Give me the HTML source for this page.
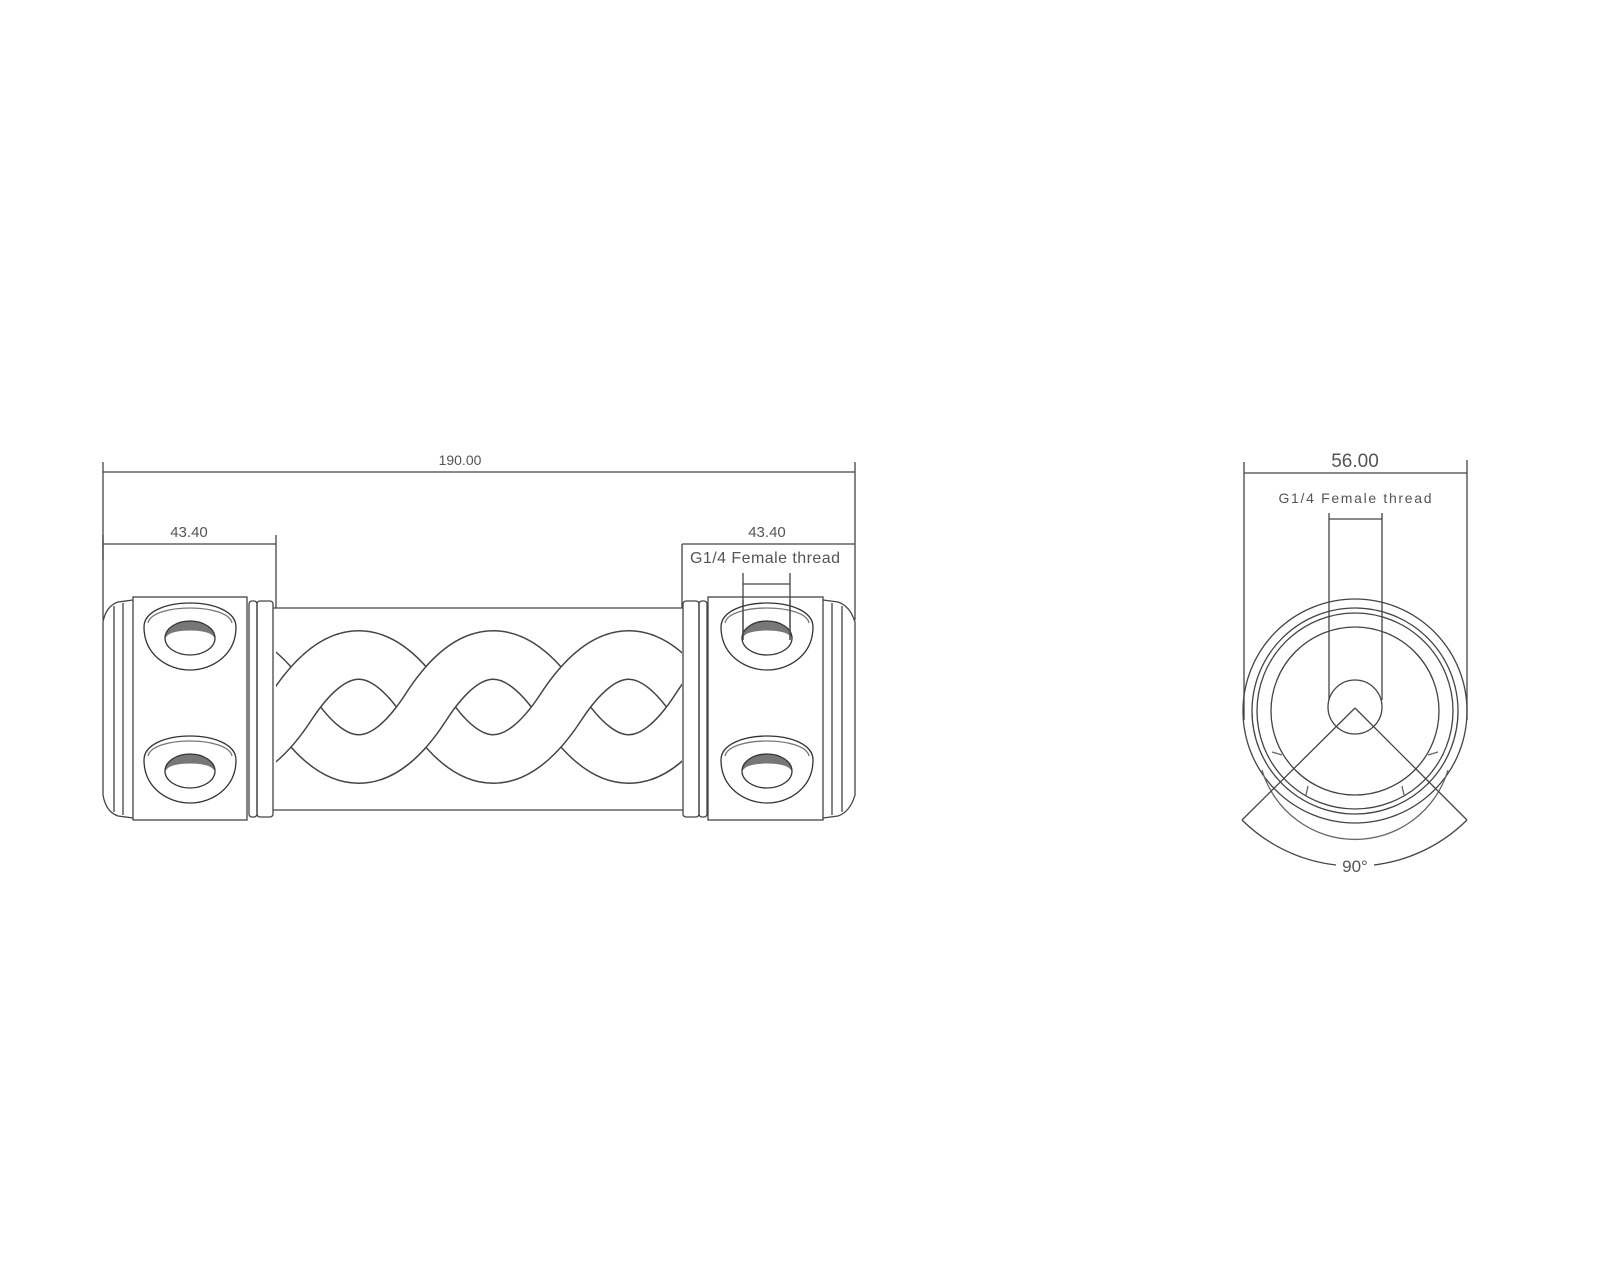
<!DOCTYPE html>
<html><head><meta charset="utf-8"><style>
html,body{margin:0;padding:0;background:#fff;}
svg{display:block;}
text{font-family:"Liberation Sans",sans-serif;fill:#555;}
</style></head><body>
<svg width="1600" height="1280" viewBox="0 0 1600 1280" xmlns="http://www.w3.org/2000/svg">
<defs>
<clipPath id="tube"><rect x="276" y="609" width="406" height="200"/></clipPath>
<clipPath id="c1"><rect x="380" y="600" width="90" height="220"/></clipPath>
<clipPath id="c2"><rect x="650" y="600" width="40" height="220"/></clipPath>
<clipPath id="c0"><rect x="250" y="600" width="80" height="220"/></clipPath>
</defs>
<g fill="none" stroke="#444" stroke-width="1.3">
<!-- overall dims -->
<line x1="103" y1="462" x2="103" y2="620"/>
<line x1="855" y1="462" x2="855" y2="620"/>
<line x1="103" y1="472" x2="855" y2="472"/>
<line x1="103" y1="535" x2="103" y2="560"/>
<line x1="103" y1="544" x2="276" y2="544"/>
<line x1="276" y1="535" x2="276" y2="608"/>
<line x1="682" y1="544" x2="855" y2="544"/>
<line x1="682" y1="544" x2="682" y2="608"/>
<line x1="743" y1="573" x2="743" y2="640"/>
<line x1="790" y1="573" x2="790" y2="640"/>
<line x1="743" y1="584" x2="790" y2="584"/>
<!-- left cap -->
<path d="M133,600 L118,602 Q106,606 103,622 L103,795 Q106,812 118,816 L133,818"/>
<line x1="114" y1="606" x2="114" y2="812"/>
<line x1="123" y1="603" x2="123" y2="815"/>
<rect x="133" y="597" width="114" height="223"/>
<rect x="249" y="601" width="8" height="216" rx="3"/>
<rect x="257" y="601" width="16" height="216" rx="3"/>
<!-- right cap -->
<rect x="683" y="601" width="16" height="216" rx="3"/>
<rect x="699" y="601" width="8" height="216" rx="3"/>
<rect x="708" y="597" width="115" height="223"/>
<path d="M823,600 L838,602 Q850,606 855,622 L855,795 Q850,812 838,816 L823,818"/>
<line x1="842" y1="606" x2="842" y2="812"/>
<line x1="832" y1="603" x2="832" y2="815"/>
<!-- tube -->
<line x1="273" y1="608" x2="683" y2="608"/>
<line x1="273" y1="810" x2="683" y2="810"/>
</g>
<!-- braid -->
<g clip-path="url(#tube)" fill="none">
<path id="sa" d="M156,707 Q223,603 291,707 T426,707 T561,707 T696,707 T831,707" stroke="#444" stroke-width="50"/>
<path d="M156,707 Q223,603 291,707 T426,707 T561,707 T696,707 T831,707" stroke="#fff" stroke-width="47"/>
<path d="M156,707 Q223,811 291,707 T426,707 T561,707 T696,707 T831,707" stroke="#444" stroke-width="50"/>
<path d="M156,707 Q223,811 291,707 T426,707 T561,707 T696,707 T831,707" stroke="#fff" stroke-width="47"/>
<g clip-path="url(#c1)">
<path d="M156,707 Q223,603 291,707 T426,707 T561,707 T696,707 T831,707" stroke="#444" stroke-width="50"/>
<path d="M156,707 Q223,603 291,707 T426,707 T561,707 T696,707 T831,707" stroke="#fff" stroke-width="47"/>
</g>
<g clip-path="url(#c2)">
<path d="M156,707 Q223,603 291,707 T426,707 T561,707 T696,707 T831,707" stroke="#444" stroke-width="50"/>
<path d="M156,707 Q223,603 291,707 T426,707 T561,707 T696,707 T831,707" stroke="#fff" stroke-width="47"/>
</g>
</g>
<!-- holes -->
<g id="holes" fill="none" stroke="#333" stroke-width="1.3">
<g transform="translate(190,637)">
<path d="M-46,-10 C-46,-42 46,-42 46,-10 C46,18 22,33 0,33 C-22,33 -46,18 -46,-10Z"/>
<path d="M-42,-14 C-38,-34 38,-34 42,-14" stroke="#777"/>
<path d="M-25,1 A25,17 0 0 1 25,1 L22,-2 C15,-8 -15,-8 -22,-2Z" fill="#777" stroke="none"/>
<ellipse cx="0" cy="1" rx="25" ry="17"/>
</g>
<g transform="translate(190,770)">
<path d="M-46,-10 C-46,-42 46,-42 46,-10 C46,18 22,33 0,33 C-22,33 -46,18 -46,-10Z"/>
<path d="M-42,-14 C-38,-34 38,-34 42,-14" stroke="#777"/>
<path d="M-25,1 A25,17 0 0 1 25,1 L22,-2 C15,-8 -15,-8 -22,-2Z" fill="#777" stroke="none"/>
<ellipse cx="0" cy="1" rx="25" ry="17"/>
</g>
<g transform="translate(767,637)">
<path d="M-46,-10 C-46,-42 46,-42 46,-10 C46,18 22,33 0,33 C-22,33 -46,18 -46,-10Z"/>
<path d="M-42,-14 C-38,-34 38,-34 42,-14" stroke="#777"/>
<path d="M-25,1 A25,17 0 0 1 25,1 L22,-2 C15,-8 -15,-8 -22,-2Z" fill="#777" stroke="none"/>
<ellipse cx="0" cy="1" rx="25" ry="17"/>
</g>
<g transform="translate(767,770)">
<path d="M-46,-10 C-46,-42 46,-42 46,-10 C46,18 22,33 0,33 C-22,33 -46,18 -46,-10Z"/>
<path d="M-42,-14 C-38,-34 38,-34 42,-14" stroke="#777"/>
<path d="M-25,1 A25,17 0 0 1 25,1 L22,-2 C15,-8 -15,-8 -22,-2Z" fill="#777" stroke="none"/>
<ellipse cx="0" cy="1" rx="25" ry="17"/>
</g>
</g>
<line x1="743" y1="600" x2="743" y2="640" stroke="#444" stroke-width="1.3"/>
<line x1="790" y1="600" x2="790" y2="640" stroke="#444" stroke-width="1.3"/>
<!-- texts left -->
<text x="460" y="465" font-size="14" text-anchor="middle">190.00</text>
<text x="189" y="537" font-size="15" text-anchor="middle">43.40</text>
<text x="767" y="537" font-size="15" text-anchor="middle">43.40</text>
<text x="765" y="563" font-size="16" text-anchor="middle" textLength="150">G1/4 Female thread</text>

<!-- end view -->
<g fill="none" stroke="#444" stroke-width="1.3">
<line x1="1244" y1="462" x2="1244" y2="720"/>
<line x1="1467" y1="460" x2="1467" y2="720"/>
<line x1="1244" y1="473" x2="1467" y2="473"/>
<line x1="1329" y1="513" x2="1329" y2="700"/>
<line x1="1382" y1="513" x2="1382" y2="700"/>
<line x1="1329" y1="519" x2="1382" y2="519"/>
<circle cx="1355" cy="711" r="112"/>
<circle cx="1355" cy="711" r="103"/>
<circle cx="1355" cy="711" r="98"/>
<circle cx="1355" cy="711" r="84"/>
<circle cx="1355" cy="707" r="27"/>
<path d="M1262,770 A97,97 0 0 0 1448,770" stroke="#666"/>
<line x1="1272" y1="752" x2="1282" y2="755" stroke="#666"/>
<line x1="1438" y1="752" x2="1428" y2="755" stroke="#666"/>
<line x1="1308" y1="786" x2="1306" y2="795" stroke="#666"/>
<line x1="1402" y1="786" x2="1404" y2="795" stroke="#666"/>
<line x1="1355" y1="708" x2="1242" y2="820"/>
<line x1="1355" y1="708" x2="1467" y2="820"/>
<path d="M1242,820 A159,159 0 0 0 1336,865"/>
<path d="M1374,865 A159,159 0 0 0 1467,820"/>
</g>
<text x="1355" y="467" font-size="19" text-anchor="middle">56.00</text>
<text x="1355" y="503" font-size="14" text-anchor="middle" textLength="153">G1/4 Female thread</text>
<text x="1355" y="872" font-size="17" text-anchor="middle">90°</text>
</svg>
</body></html>
